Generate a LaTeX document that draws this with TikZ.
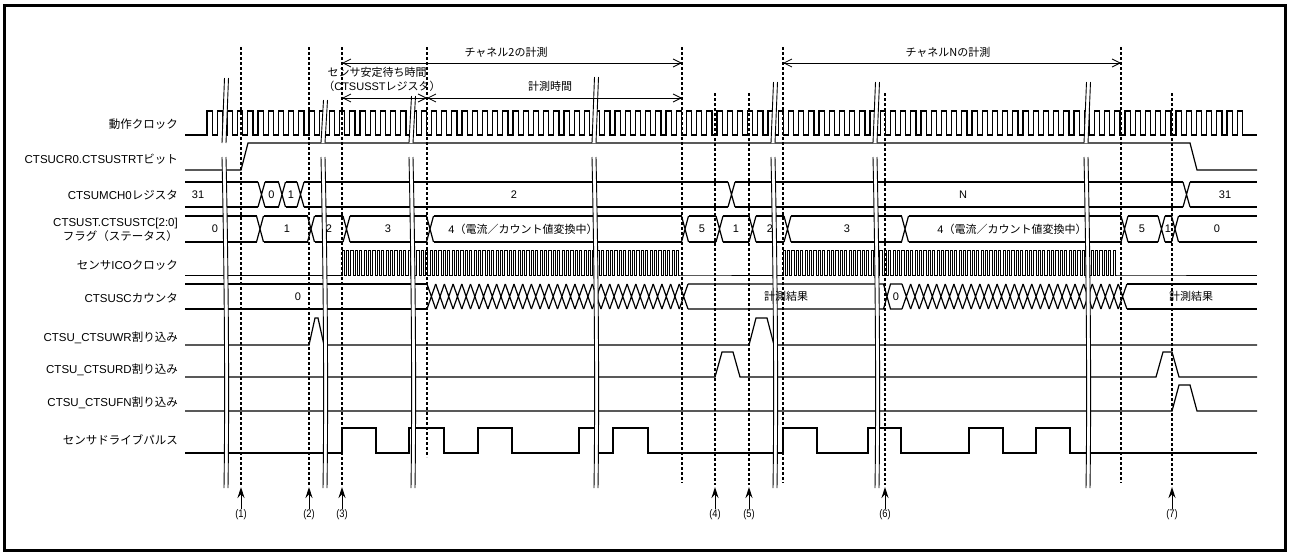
\documentclass[tikz,border=0pt]{standalone}
\usepackage{fontspec}
\setmainfont{Liberation Sans}
\newfontfamily\jp{Noto Sans CJK JP}
\usetikzlibrary{arrows.meta}

\tikzset{
  sig/.style={line width=1.2pt},
  guide/.style={line width=1.2pt, dash pattern=on 3pt off 2pt},
  span/.style={line width=0.8pt, {Straight Barb[length=8pt,width=8pt]}-{Straight Barb[length=8pt,width=8pt]}},
  lbl/.style={anchor=east, inner sep=0pt, font=\fontsize{11.5}{14}\selectfont},
  val/.style={inner sep=0pt, font=\fontsize{11}{12}\selectfont},
  evt/.style={inner sep=1pt, font=\fontsize{11}{12}\selectfont},
}

% bus row: top y, bottom y, crossing points
\newcommand{\bus}[3]{%
  \foreach \cx [remember=\cx as \px (initially 181.5)] in {#3,1260.5}
    \draw[sig] (\px+3.5,#1) -- (\cx-3.5,#1) (\px+3.5,#2) -- (\cx-3.5,#2);
  \foreach \cx in {#3}
    \draw[sig] (\cx-3.5,#1) -- (\cx+3.5,#2) (\cx-3.5,#2) -- (\cx+3.5,#1);
}
% break mark: x, top y (left open at the start-bit row)
\newcommand{\brk}[2]{%
  \fill[white] (#1+2.5,#2) -- (#1+6.5,#2) -- (#1+4,143) -- (#1,143) -- cycle;
  \draw[line width=0.9pt] (#1+2.5,#2) -- (#1,143) (#1+6.5,#2) -- (#1+4,143);
  \fill[white] (#1,157) .. controls (#1+3,300) and (#1+3,420) .. (#1+2,488)
    -- (#1+6,488) .. controls (#1+7,420) and (#1+7,300) .. (#1+4,157) -- cycle;
  \draw[line width=0.9pt] (#1,157) .. controls (#1+3,300) and (#1+3,420) .. (#1+2,488)
    (#1+4,157) .. controls (#1+7,300) and (#1+7,420) .. (#1+6,488);
}

\begin{document}
\begin{tikzpicture}[x=1pt, y=-1pt]
\useasboundingbox (0,0) rectangle (1290,554);
\draw[line width=3pt] (4.5,5.5) rectangle (1285,550);

% signal names
\node[lbl] (clk) at (178,124) {\jp 動作クロック};
\node[lbl] (strt) at (178,159) {CTSUCR0.CTSUSTRT{\jp ビット}};
\node[lbl] (mch) at (178,195) {CTSUMCH0{\jp レジスタ}};
\node[lbl, align=right] (stc) at (178,230) {CTSUST.CTSUSTC[2:0]\\{\jp フラグ（ステータス）}};
\node[lbl] (ico) at (178,265) {{\jp センサ}ICO{\jp クロック}};
\node[lbl] (sc) at (178,298) {CTSUSC{\jp カウンタ}};
\node[lbl] (wr) at (178,338) {CTSU\_CTSUWR{\jp 割り込み}};
\node[lbl] (rd) at (178,370) {CTSU\_CTSURD{\jp 割り込み}};
\node[lbl] (fn) at (178,403) {CTSU\_CTSUFN{\jp 割り込み}};
\node[lbl] (drv) at (178,440) {\jp センサドライブパルス};

% operating clock
\draw[sig] (185,135) -- (207,135)
  \foreach \i in {1,...,102} { -- ++(0,-24) -- ++(5.1,0) -- ++(0,24) -- ++(5.1,0) } -- (1257,135);

% start bit
\draw[sig] (185,170) -- (241,170) -- (248,143) -- (1190,143) -- (1197,170) -- (1257,170);

% channel register and status flags
\bus{182}{207}{261.5,282,300.5,731.5,1186.5}
\bus{216}{242}{260,311,346.5,430,685,719.5,752.5,787.5,905,1124.5,1161.5,1175}

% sensor ICO clock
\draw[line width=1pt] (185,275) -- (342,275)
  \foreach \i in {1,...,77} { -- ++(0,-25) -- ++(2.2,0) -- ++(0,25) -- ++(2.2,0) } -- (783,275)
  \foreach \i in {1,...,76} { -- ++(0,-25) -- ++(2.2,0) -- ++(0,25) -- ++(2.2,0) } -- (1257,275);

% counter
\draw[sig] (185,284) -- (427,284) (185,309) -- (427,309);
\foreach \i in {0,...,29}
  \draw[sig] (427+8.7*\i,284) -- ++(8.7,25) (427+8.7*\i,309) -- ++(8.7,-25);
\draw[sig] (688,284) -- (883.5,284) -- (890.5,309) -- (902,309)
           (688,309) -- (883.5,309) -- (890.5,284) -- (902,284);
\foreach \i in {0,...,25}
  \draw[sig] (902+8.65*\i,284) -- ++(8.65,25) (902+8.65*\i,309) -- ++(8.65,-25);
\draw[sig] (1127,284) -- (1257,284) (1127,309) -- (1257,309);

% interrupts
\draw[sig] (185,345) -- (309,345) -- (315,318) -- (318,318) -- (324,345) -- (749,345)
  -- (756,318) -- (767,318) -- (774,345) -- (1257,345);
\draw[sig] (185,377) -- (715,377) -- (722,352) -- (733,352) -- (740,377) -- (1156,377)
  -- (1163,352) -- (1172,352) -- (1179,377) -- (1257,377);
\draw[sig] (185,411) -- (1172,411) -- (1179,385) -- (1190,385) -- (1197,411) -- (1257,411);

% sensor drive pulse
\draw[sig] (185,453) -- (342,453) |- (376,428) |- (409,453) |- (444,428) |- (478,453)
  |- (512,428) |- (579,453) |- (597,428) |- (613,453) |- (648,428) |- (783,453)
  |- (817,428) |- (868,453) |- (901,428) |- (969,453) |- (1003,428) |- (1036,453)
  |- (1070,428) |- (1257,453);

% timing guides
\foreach \gx/\gtop/\gbot in {241/47/485, 309/47/485, 342/47/485, 427/47/457, 682/47/483,
    715/93/485, 749/93/485, 783/47/483, 885/93/485, 1121/47/483, 1172/93/485}
  \draw[guide] (\gx,\gtop) -- (\gx,\gbot);

% breaks
\foreach \bx/\by in {222/78, 321/100, 409/96, 592/77, 771/82, 873/82, 1084/82}
  {\brk{\bx}{\by}}

% bus values
\foreach \vx/\vt in {198/31, 271.5/0, 291/1, 514/2, 963/N, 1225/31}
  \node[val] at (\vx,194.5) {\vt};
\foreach \vx/\vt in {215/0, 287/1, 329/2, 388/3, 702/5, 736/1, 770/2, 847/3, 1142/5, 1168/1, 1217/0}
  \node[val] at (\vx,229) {\vt};
\node[val] (cv1) at (523,229) {4{\jp （電流／カウント値変換中）}};
\node[val] (cv2) at (1012,229) {4{\jp （電流／カウント値変換中）}};
\node[val] (sc0) at (298,296.5) {0};
\node[val] (res1) at (786,296.5) {\jp 計測結果};
\node[val] (sc0b) at (896,296.5) {0};
\node[val] (res2) at (1191,296.5) {\jp 計測結果};

% measurement spans
\coordinate (c2s) at (342,63);
\coordinate (c2e) at (682,63);
\coordinate (sts) at (342,98);
\coordinate (ste) at (427,98);
\coordinate (mse) at (682,98);
\coordinate (cns) at (783,63);
\coordinate (cne) at (1121,63);
\draw[span] (c2s) -- (c2e);
\draw[span] (sts) -- (ste);
\draw[span] (ste) -- (mse);
\draw[span] (cns) -- (cne);
\node[val] (c2t) at (506,52) {\jp チャネル2の計測};
\node[val] (stt1) at (377,72) {\jp センサ安定待ち時間};
\node[val] (stt2) at (382,86) {{\jp （}CTSUSST{\jp レジスタ）}};
\node[val] (mst) at (550,86) {\jp 計測時間};
\node[val] (cnt) at (948,52) {\jp チャネルNの計測};

% event markers
\foreach \ex [count=\n] in {241,309,342,715,749,885,1172} {
  \node[evt] (e\n) at (\ex,515) {\scalebox{0.85}[1]{(\n)}};
  \draw[line width=1pt, -{Stealth[length=11pt,width=7pt]}] (e\n.north) -- (\ex,487);
}
\end{tikzpicture}
\end{document}
